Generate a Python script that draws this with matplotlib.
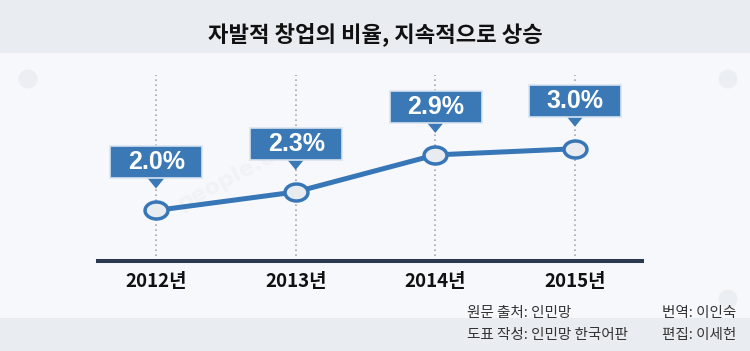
import numpy as np
import matplotlib
matplotlib.use('Agg')
import matplotlib.pyplot as plt
import matplotlib.patches as mpatches
import matplotlib.transforms as mtransforms
from matplotlib.path import Path

years = ['2012년', '2013년', '2014년', '2015년']
rates = [2.0, 2.3, 2.9, 3.0]
rate_labels = ['2.0%', '2.3%', '2.9%', '3.0%']
title = '자발적 창업의 비율, 지속적으로 상승'
credits_left = ['원문 출처: 인민망', '도표 작성: 인민망 한국어판']
credits_right = ['번역: 이인숙', '편집: 이세헌']

kr = ['Noto Sans CJK KR', 'DejaVu Sans']
blue = '#3777b7'
W, H = 750, 351

fig = plt.figure(figsize=(7.5, 3.51), dpi=100)
fig.patch.set_facecolor('#f7f8fb')

# background bands
fig.patches.append(mpatches.Rectangle((0, 1 - 53 / H), 1, 53 / H, transform=fig.transFigure,
                                      facecolor='#e9edf2', edgecolor='none', zorder=0))
fig.patches.append(mpatches.Rectangle((0, 0), 1, 33 / H, transform=fig.transFigure,
                                      facecolor='#e9edf2', edgecolor='none', zorder=0))
# faint decorative dots
for cx, cy in [(28, 79), (728, 79), (728, 299)]:
    fig.patches.append(mpatches.Ellipse((cx / W, 1 - cy / H), 19 / W, 19 / H,
                                        transform=fig.transFigure, facecolor='#ebeef2',
                                        edgecolor='none', zorder=0))

fig.text(0.5, 1 - 34 / H, title, ha='center', va='center', fontsize=16,
         fontweight='heavy', family=kr, color='#111111')

ax = fig.add_axes([98 / W, (H - 261) / H, (642 - 98) / W, (261 - 75) / H])
ax.set_facecolor('none')
x = np.arange(len(years))
ax.set_xlim(-0.415, 3.48)
ax.set_ylim(1.181, 4.195)

# faint watermark
ax.text(0.55, 2.55, 'people.cn', fontsize=16, color='#f0f2f5', rotation=28,
        ha='center', va='center', fontweight='bold', zorder=0)

ax.vlines(x, 1.181, 4.195, colors='#a8a8a8', linestyles=(0, (1, 2)), lw=1.2, zorder=1)

theta = np.linspace(0, 2 * np.pi, 60)
ell = Path(np.column_stack([1.35 * np.cos(theta), np.sin(theta)]), closed=True)
ax.plot(x, rates, color=blue, lw=3.6, marker=ell, markersize=16.5,
        mfc='#e8ecf1', mec=blue, mew=2.5, zorder=4, solid_capstyle='round')

for xi, v, lab in zip(x, rates, rate_labels):
    tr = fig.dpi_scale_trans + mtransforms.ScaledTranslation(xi, v, ax.transData)
    ax.add_patch(mpatches.Polygon([(-0.09, 0.33), (0.09, 0.33), (0, 0.22)], closed=True,
                                  transform=tr, facecolor='#3a78b6', edgecolor='none', zorder=5))
    ax.add_patch(mpatches.Rectangle((-0.455, 0.32), 0.92, 0.32, transform=tr,
                                    facecolor='#3a78b6', edgecolor='#d8e4f0', lw=1.2, zorder=5))
    ax.text(0.005, 0.48, lab, transform=tr, ha='center', va='center', color='white',
            fontsize=18, fontweight='bold', family=['Liberation Sans', 'DejaVu Sans'],
            zorder=6)

for s in ['top', 'left', 'right']:
    ax.spines[s].set_visible(False)
ax.spines['bottom'].set_color('#2b3a4e')
ax.spines['bottom'].set_linewidth(2.9)
ax.set_yticks([])
ax.set_xticks(x)
ax.set_xticklabels(years, fontsize=13.5, family=kr, fontweight='bold', color='#111111')
ax.tick_params(axis='x', length=0, pad=8)

for i, t in enumerate(credits_left):
    fig.text(467 / W, 1 - (313 + 22 * i) / H, t, ha='left', va='center', fontsize=10.5,
             family=kr, color='#333333')
for i, t in enumerate(credits_right):
    fig.text(662 / W, 1 - (313 + 22 * i) / H, t, ha='left', va='center', fontsize=10.5,
             family=kr, color='#333333')

fig.savefig('out.png', dpi=100, facecolor=fig.get_facecolor())
